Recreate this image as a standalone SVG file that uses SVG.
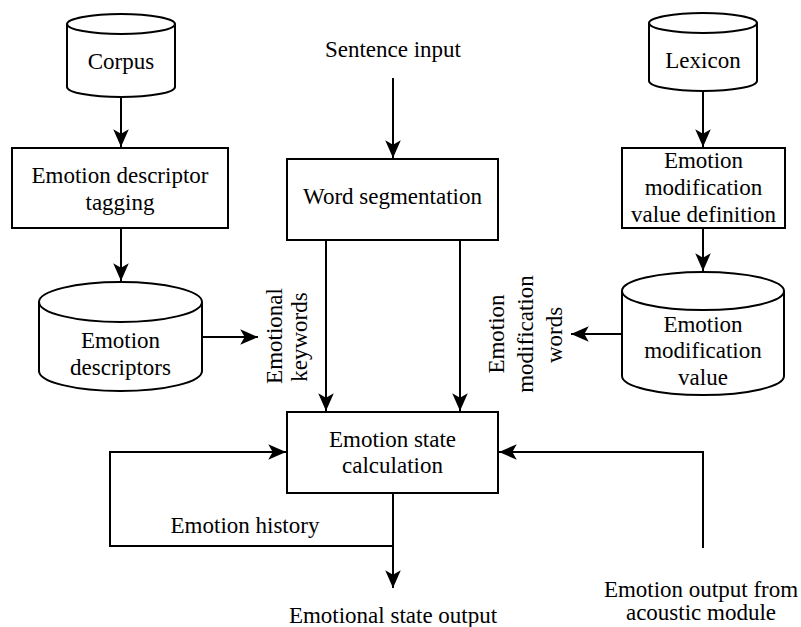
<svg xmlns="http://www.w3.org/2000/svg" width="801" height="627" viewBox="0 0 801 627">
<style>
.s{fill:#fff;stroke:#000;stroke-width:2}
.c{fill:none;stroke:#000;stroke-width:2}
text{font-family:"Liberation Serif","Times New Roman",serif;font-size:23px;fill:#000;text-anchor:middle}
</style>
<defs>
<marker id="ah" markerUnits="userSpaceOnUse" markerWidth="20" markerHeight="20" viewBox="-17 -8 18 16" refX="0" refY="0" orient="auto">
<path d="M0,0 L-16,-7 L-12,0 L-16,7 Z" fill="#000"/>
</marker>
</defs>
<rect width="801" height="627" fill="#fff"/>
<g id="corpus">
<path class="s" d="M67,24 A54,10 0 0 1 175,24 L175,87 A54,10 0 0 1 67,87 Z"/>
<path class="c" d="M67,24 A54,10 0 0 0 175,24"/>
<text x="121" y="69">Corpus</text>
</g>
<g id="tagging">
<rect class="s" x="12" y="148" width="216" height="80"/>
<text x="120" y="183">Emotion descriptor</text>
<text x="120" y="210">tagging</text>
</g>
<g id="descriptors">
<path class="s" d="M39,302 A81.5,20 0 0 1 202,302 L202,371 A81.5,20 0 0 1 39,371 Z"/>
<path class="c" d="M39,302 A81.5,20 0 0 0 202,302"/>
<text x="120.5" y="348">Emotion</text>
<text x="120.5" y="375">descriptors</text>
</g>
<g id="sentence">
<text x="393" y="57">Sentence input</text>
</g>
<g id="wordseg">
<rect class="s" x="287" y="159" width="211" height="81"/>
<text x="392.5" y="204">Word segmentation</text>
</g>
<g id="lexicon">
<path class="s" d="M649,23 A54,10 0 0 1 757,23 L757,81 A54,10 0 0 1 649,81 Z"/>
<path class="c" d="M649,23 A54,10 0 0 0 757,23"/>
<text x="703" y="68">Lexicon</text>
</g>
<g id="definition">
<rect class="s" x="622" y="148" width="163" height="80"/>
<text x="703.5" y="168">Emotion</text>
<text x="703.5" y="195">modification</text>
<text x="703.5" y="222">value definition</text>
</g>
<g id="modvalue">
<path class="s" d="M622,291 A81,19 0 0 1 784,291 L784,376 A81,19 0 0 1 622,376 Z"/>
<path class="c" d="M622,291 A81,19 0 0 0 784,291"/>
<text x="703" y="332">Emotion</text>
<text x="703" y="358">modification</text>
<text x="703" y="385">value</text>
</g>
<g id="keywords-label">
<text transform="translate(282,336) rotate(-90)">Emotional</text>
<text transform="translate(307,337) rotate(-90)">keywords</text>
</g>
<g id="modwords-label">
<text transform="translate(504,334) rotate(-90)">Emotion</text>
<text transform="translate(533,334) rotate(-90)">modification</text>
<text transform="translate(562,335) rotate(-90)">words</text>
</g>
<g id="calc">
<rect class="s" x="287" y="412" width="211" height="81"/>
<text x="392.5" y="447">Emotion state</text>
<text x="392.5" y="473">calculation</text>
</g>
<g id="history-label">
<text x="245" y="533">Emotion history</text>
</g>
<g id="output">
<text x="393" y="623">Emotional state output</text>
</g>
<g id="acoustic">
<text x="701" y="597">Emotion output from</text>
<text x="701" y="620">acoustic module</text>
</g>
<g id="connectors">
<path class="c" d="M121,97 L121,147" marker-end="url(#ah)"/>
<path class="c" d="M393,78 L393,158" marker-end="url(#ah)"/>
<path class="c" d="M703,91 L703,147" marker-end="url(#ah)"/>
<path class="c" d="M121,228 L121,281" marker-end="url(#ah)"/>
<path class="c" d="M703,228 L703,271" marker-end="url(#ah)"/>
<path class="c" d="M202,337 L258,337" marker-end="url(#ah)"/>
<path class="c" d="M622,334 L571,334" marker-end="url(#ah)"/>
<path class="c" d="M326,240 L326,411" marker-end="url(#ah)"/>
<path class="c" d="M460,240 L460,411" marker-end="url(#ah)"/>
<path class="c" d="M393,493 L393,588" marker-end="url(#ah)"/>
<path class="c" d="M393,546 L110,546 L110,452 L286,452" marker-end="url(#ah)"/>
<path class="c" d="M703,548 L703,452 L499,452" marker-end="url(#ah)"/>
</g>
</svg>
